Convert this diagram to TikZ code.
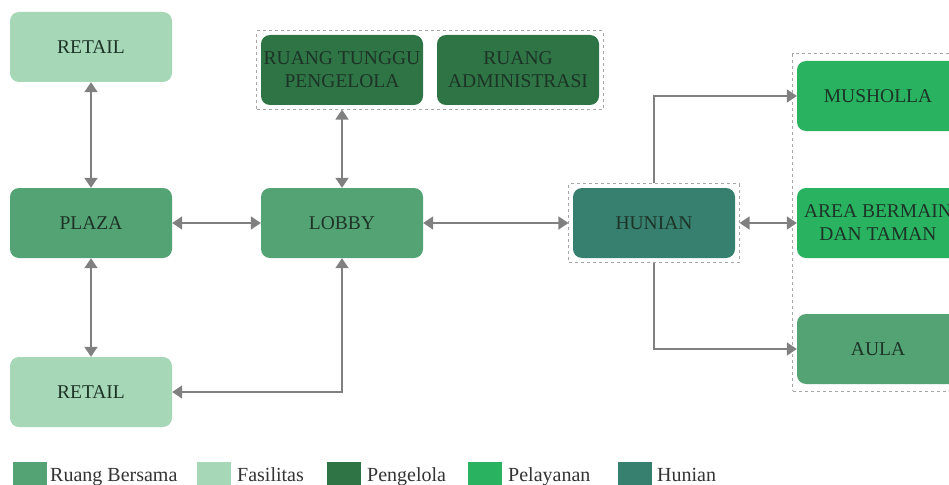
\documentclass[tikz,border=0pt]{standalone}
\usepackage{fontspec}
\setmainfont{Liberation Serif}
\usetikzlibrary{arrows.meta,fit}

\definecolor{bersama}{HTML}{54A374}
\definecolor{fasilitas}{HTML}{A6D8B7}
\definecolor{pengelola}{HTML}{2E7445}
\definecolor{pelayanan}{HTML}{29B360}
\definecolor{hunian}{HTML}{37806F}
\definecolor{labeltext}{HTML}{1C3326}
\definecolor{linkgray}{HTML}{808080}

\begin{document}
\begin{tikzpicture}[x=1pt,y=-1pt,
    room/.style={rounded corners=9pt, minimum width=162pt, minimum height=70pt,
      inner sep=0pt, align=center, text=labeltext, font=\fontsize{19.5}{23}\selectfont},
    grp/.style={draw=gray!70, dashed, line width=0.8pt, inner sep=4pt},
    link/.style={draw=linkgray, line width=1.8pt},
    key/.style={minimum width=34pt, minimum height=30pt, inner sep=0pt, anchor=north west},
    keytext/.style={anchor=base west, inner sep=0pt, text=black!80, font=\fontsize{20}{23}\selectfont},
    >={Triangle[length=10pt,width=13pt]}]
    \useasboundingbox (0,0) rectangle (949,484);
    \clip (0,0) rectangle (949,484);
    \fill[white] (0,0) rectangle (949,484);

    \node[room, fill=fasilitas] (RTA) at (91,47)  {RETAIL};
    \node[room, fill=bersama]   (PLZ) at (91,223) {PLAZA};
    \node[room, fill=fasilitas] (RTB) at (91,392) {RETAIL};
    \node[room, fill=bersama]   (LBY) at (342,223) {LOBBY};
    \node[room, fill=pengelola] (RTP) at (342,70) {RUANG TUNGGU\\PENGELOLA};
    \node[room, fill=pengelola] (RAD) at (518,70) {RUANG\\ADMINISTRASI};
    \node[room, fill=hunian]    (HUN) at (654,223) {HUNIAN};
    \node[room, fill=pelayanan] (MSH) at (878,96)  {MUSHOLLA};
    \node[room, fill=pelayanan] (ARB) at (878,223) {AREA BERMAIN\\DAN TAMAN};
    \node[room, fill=bersama]   (AUL) at (878,349) {AULA};

    \node[grp, fit=(RTP)(RAD)] (PGB) {};
    \node[grp, fit=(HUN)] (HNB) {};
    \node[grp, fit=(MSH)(ARB)(AUL), inner ysep=7pt] (SVB) {};

    \draw[link,<->] (RTA) -- (PLZ);
    \draw[link,<->] (PLZ) -- (LBY);
    \draw[link,<->] (PLZ) -- (RTB);
    \draw[link,<->] (PGB.south -| LBY.north) -- (LBY.north);
    \draw[link,<->] (LBY.south) |- (RTB.east);
    \draw[link,<->] (LBY) -- (HNB);
    \draw[link,<->] (HNB) -- (ARB);
    \draw[link,->] (HNB.north) |- (MSH.west);
    \draw[link,->] (HNB.south) |- (AUL.west);

    % legenda
    \node[key, fill=bersama]   (KRB) at (13,462)  {};
    \node[keytext]             (TRB) at (50,481)  {Ruang Bersama};
    \node[key, fill=fasilitas] (KFS) at (197,462) {};
    \node[keytext]             (TFS) at (237,481) {Fasilitas};
    \node[key, fill=pengelola] (KPG) at (327,462) {};
    \node[keytext]             (TPG) at (367,481) {Pengelola};
    \node[key, fill=pelayanan] (KPL) at (468,462) {};
    \node[keytext]             (TPL) at (508,481) {Pelayanan};
    \node[key, fill=hunian]    (KHN) at (618,462) {};
    \node[keytext]             (THN) at (657,481) {Hunian};
\end{tikzpicture}
\end{document}
